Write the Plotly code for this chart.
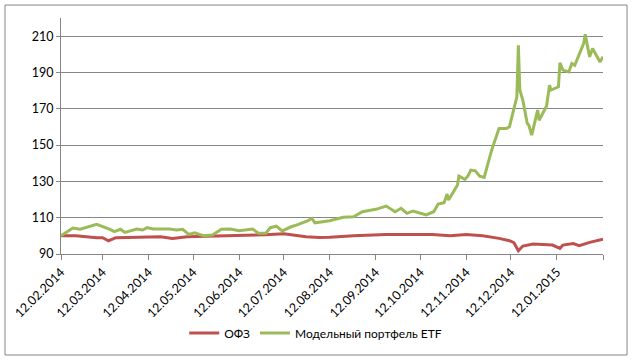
import plotly.graph_objects as go

# --- data ---
ofz_dates = ["2014-02-12", "2014-02-22", "2014-03-08", "2014-03-12", "2014-03-16", "2014-03-21",
             "2014-04-20", "2014-04-28", "2014-05-08", "2014-06-08", "2014-06-30", "2014-07-12",
             "2014-07-18", "2014-07-27", "2014-08-05", "2014-08-12", "2014-08-28", "2014-09-19",
             "2014-10-20", "2014-11-01", "2014-11-12", "2014-11-23", "2014-12-04", "2014-12-11",
             "2014-12-14", "2014-12-17", "2014-12-20", "2014-12-25", "2014-12-27", "2015-01-09",
             "2015-01-14", "2015-01-16", "2015-01-23", "2015-01-27", "2015-02-03", "2015-02-12"]
ofz_values = [100.0, 100.0, 99.0, 99.0, 97.3, 99.0,
              99.5, 98.6, 99.5, 100.1, 100.6, 101.2,
              100.6, 99.5, 99.1, 99.2, 100.0, 100.8,
              100.8, 100.0, 100.8, 100.0, 98.6, 97.3,
              96.2, 91.8, 94.4, 94.9, 95.5, 94.9,
              93.1, 94.9, 95.8, 94.6, 96.4, 98.2]

etf_dates = ["2014-02-12", "2014-02-20", "2014-02-25", "2014-03-04", "2014-03-08", "2014-03-17",
             "2014-03-20", "2014-03-24", "2014-03-27", "2014-04-04", "2014-04-08", "2014-04-11",
             "2014-04-15", "2014-04-26", "2014-05-01", "2014-05-05", "2014-05-09", "2014-05-13",
             "2014-05-19", "2014-05-25", "2014-05-31", "2014-06-06", "2014-06-12", "2014-06-21",
             "2014-06-25", "2014-06-30", "2014-07-03", "2014-07-07", "2014-07-11", "2014-07-17",
             "2014-07-21", "2014-07-28", "2014-07-31", "2014-08-02", "2014-08-12", "2014-08-21",
             "2014-08-28", "2014-09-03", "2014-09-09", "2014-09-12", "2014-09-19", "2014-09-25",
             "2014-09-29", "2014-10-03", "2014-10-07", "2014-10-16", "2014-10-21", "2014-10-24",
             "2014-10-28", "2014-10-30", "2014-10-31", "2014-11-06", "2014-11-07", "2014-11-11",
             "2014-11-13", "2014-11-15", "2014-11-18", "2014-11-21", "2014-11-24", "2014-11-29",
             "2014-12-04", "2014-12-09", "2014-12-11", "2014-12-14", "2014-12-16", "2014-12-17",
             "2014-12-18", "2014-12-20", "2014-12-23", "2014-12-24", "2014-12-26", "2014-12-30",
             "2014-12-31", "2015-01-05", "2015-01-07", "2015-01-08", "2015-01-13", "2015-01-14",
             "2015-01-16", "2015-01-20", "2015-01-22", "2015-01-24", "2015-01-30", "2015-01-31",
             "2015-02-03", "2015-02-05", "2015-02-07", "2015-02-10", "2015-02-12"]
etf_values = [100.0, 104.3, 103.6, 105.4, 106.3, 103.6,
              102.3, 103.6, 101.9, 103.8, 103.2, 104.5,
              103.8, 103.8, 103.2, 103.6, 100.8, 101.7,
              100.1, 100.5, 103.6, 103.8, 102.8, 103.8,
              101.4, 101.4, 104.5, 105.4, 102.7, 105.0,
              106.0, 108.3, 109.6, 107.2, 108.3, 110.2,
              110.5, 113.3, 114.2, 114.6, 116.4, 113.3,
              115.2, 112.4, 113.7, 111.5, 113.3, 117.5,
              118.2, 123.0, 119.7, 128.0, 132.9, 131.1,
              132.9, 136.2, 135.8, 132.9, 132.2, 147.2,
              159.2, 159.2, 160.1, 171.1, 176.6, 205.0,
              180.3, 174.8, 161.9, 161.0, 155.5, 169.3,
              163.7, 171.5, 183.0, 180.3, 182.1, 195.3,
              191.3, 190.3, 195.0, 194.0, 206.0, 211.0,
              198.6, 203.2, 200.5, 195.8, 198.6]

tick_dates = ["2014-02-12", "2014-03-12", "2014-04-12", "2014-05-12", "2014-06-12", "2014-07-12",
              "2014-08-12", "2014-09-12", "2014-10-12", "2014-11-12", "2014-12-12", "2015-01-12",
              "2015-02-12"]
tick_labels = ["12.02.2014", "12.03.2014", "12.04.2014", "12.05.2014", "12.06.2014", "12.07.2014",
               "12.08.2014", "12.09.2014", "12.10.2014", "12.11.2014", "12.12.2014", "12.01.2015",
               ""]
y_ticks = [90, 110, 130, 150, 170, 190, 210]

series_names = ["ОФЗ", "Модельный портфель ETF"]

FONT = "Lato, 'Liberation Sans', sans-serif"
GRID = "#868686"

fig = go.Figure()
fig.add_trace(go.Scatter(x=ofz_dates, y=ofz_values, mode="lines", name=series_names[0],
                         line=dict(color="#C0504D", width=3)))
fig.add_trace(go.Scatter(x=etf_dates, y=etf_values, mode="lines", name=series_names[1],
                         line=dict(color="#9BBB59", width=3)))

fig.update_layout(
    width=633, height=363,
    margin=dict(l=61, r=30, t=18, b=109, pad=0),
    paper_bgcolor="white", plot_bgcolor="white",
    font=dict(family=FONT, size=12, color="#000000"),
    showlegend=True,
    legend=dict(orientation="h", x=0.47, xanchor="center", y=-0.335, yanchor="middle",
                font=dict(family=FONT, size=12), itemwidth=30, tracegroupgap=0),
    xaxis=dict(type="date", range=["2014-02-12", "2015-02-12"], automargin=False,
               tickmode="array", tickvals=tick_dates, ticktext=tick_labels,
               tickangle=-45, ticks="outside", ticklen=5, tickcolor=GRID,
               showline=True, linecolor=GRID, linewidth=1,
               showgrid=False, zeroline=False,
               tickfont=dict(family=FONT, size=12.5)),
    yaxis=dict(range=[90, 220], tickmode="array", tickvals=y_ticks, automargin=False,
               ticks="outside", ticklen=4, tickcolor=GRID,
               showline=True, linecolor=GRID, linewidth=1,
               showgrid=True, gridcolor=GRID, gridwidth=1, zeroline=False,
               tickfont=dict(family=FONT, size=12.5)),
    shapes=[dict(type="rect", xref="paper", yref="paper",
                 x0=-0.1033, x1=1.0443, y0=-0.428, y1=1.055,
                 line=dict(color=GRID, width=1), fillcolor="rgba(0,0,0,0)", layer="below")],
)

fig.write_html("out.html", config={"displayModeBar": False},
               post_script="document.body.style.margin='0';")
